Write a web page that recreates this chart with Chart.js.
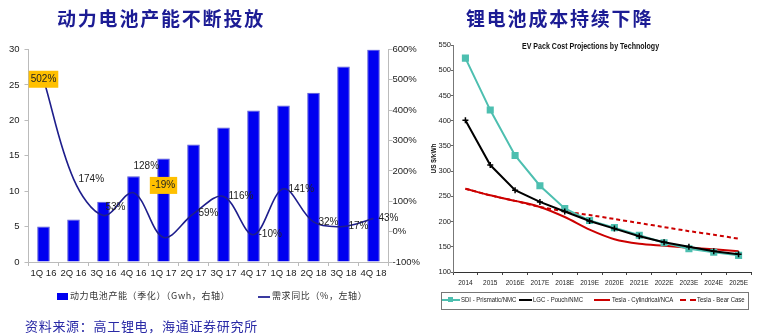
<!DOCTYPE html>
<html>
<head>
<meta charset="utf-8">
<script src="https://cdn.jsdelivr.net/npm/chart.js@4/dist/chart.umd.min.js"></script>
<style>
	html, body {margin: 0; padding: 0; background: #fff;}
	#page {position: relative; width: 757px; height: 336px; overflow: hidden;}
	canvas {position: absolute; top: 0;}
	.title {position: absolute; top: 4px; font: bold 19px "Noto Sans CJK SC", sans-serif; letter-spacing: 1.8px; color: #1c1c94; white-space: nowrap;}
	.cjk {position: absolute; font-family: "Noto Sans CJK SC", sans-serif; white-space: nowrap;}
	.narrow {position: absolute; font-family: "Liberation Sans", Arial, sans-serif; white-space: nowrap; color: #222; transform: scaleX(0.8); transform-origin: left center;}
	.sw {position: absolute;}
</style>
</head>
<body>
<div id="page">
	<canvas id="capacityChart" width="420" height="336" style="left:0"></canvas>
	<canvas id="costChart" width="337" height="336" style="left:420px"></canvas>

	<div class="title" style="left:57px">动力电池产能不断投放</div>
	<div class="title" style="left:466px">锂电池成本持续下降</div>

	<!-- left legend -->
	<div class="sw" style="left:57px; top:293px; width:11px; height:7px; background:#0000f0"></div>
	<div class="cjk" style="left:70px; top:289px; font-size:9px; letter-spacing:0.6px; color:#333">动力电池产能（季化）（Gwh，右轴）</div>
	<div class="sw" style="left:258px; top:296px; width:12px; height:2px; background:#3a3aa0"></div>
	<div class="cjk" style="left:272px; top:289px; font-size:9px; letter-spacing:0.6px; color:#333">需求同比（%，左轴）</div>

	<div class="cjk" style="left:25px; top:316px; font-size:13px; letter-spacing:0.7px; color:#2a2aa6">资料来源：高工锂电，海通证券研究所</div>

	<!-- right chart title and legend -->
	<div class="narrow" style="left:522px; top:41px; font-size:8.5px; font-weight:bold; color:#111; transform: scaleX(0.83)">EV Pack Cost Projections by Technology</div>
	<div class="sw" style="left:441px; top:292px; width:306px; height:16px; border:1px solid #777"></div>
	<div class="sw" style="left:442px; top:299px; width:18px; height:2px; background:#4dbfb0"></div>
	<div class="sw" style="left:448px; top:297px; width:5px; height:5px; background:#4dbfb0"></div>
	<div class="narrow" style="left:461px; top:295px; font-size:7.5px">SDI - Prismatic/NMC</div>
	<div class="sw" style="left:519px; top:299px; width:13px; height:2px; background:#000"></div>
	<div class="narrow" style="left:533px; top:295px; font-size:7.5px">LGC - Pouch/NMC</div>
	<div class="sw" style="left:594px; top:299px; width:16px; height:2px; background:#cc0000"></div>
	<div class="narrow" style="left:612px; top:295px; font-size:7.5px">Tesla - Cylindrical/NCA</div>
	<div class="sw" style="left:680px; top:299px; width:16px; height:0; border-top:2px dashed #cc0000"></div>
	<div class="narrow" style="left:697px; top:295px; font-size:7.5px">Tesla - Bear Case</div>
</div>

<script>
'use strict';

//left chart: capacity (GWh, quarterly) and demand growth (%)
const quarters = ['1Q 16', '2Q 16', '3Q 16', '4Q 16', '1Q 17', '2Q 17', '3Q 17', '4Q 17', '1Q 18', '2Q 18', '3Q 18', '4Q 18'];
const capacityGwh = [5, 6, 8.5, 12.1, 14.6, 16.6, 19, 21.4, 22.1, 23.9, 27.6, 30];
const demandYoY = [502, 174, 53, 128, -19, 59, 116, -10, 141, 32, 17, 43];
const highlighted = [0, 4];

//right chart: pack cost projections (US$/kWh)
const years = ['2014', '2015', '2016E', '2017E', '2018E', '2019E', '2020E', '2021E', '2022E', '2023E', '2024E', '2025E'];
const sdiCost = [524, 421, 331, 271, 226, 202, 188, 173, 158, 146, 139, 133];
const lgcCost = [401, 312, 262, 239, 220, 201, 186, 171, 159, 150, 141, 135];
const teslaCost = [265, 252, 241, 229, 209, 184, 165, 156, 152, 148, 145, 141];
const teslaBearCost = [265, 252, 241, 229, 220, 213, 205, 197, 189, 181, 174, 166];

const LATIN = '"Liberation Sans", Arial, sans-serif';

/** Draws the percentage labels next to the growth line points. */
const pointLabels = {
	id: 'pointLabels',
	afterDatasetsDraw: (chart, args, options) => {
		const {ctx} = chart;
		const meta = chart.getDatasetMeta(options.datasetIndex);
		ctx.save();
		ctx.font = '10px ' + LATIN;
		ctx.textBaseline = 'middle';
		meta.data.forEach((pt, idx) => {
			const text = demandYoY[idx] + '%';
			const nudge = options.nudge[idx] || {dx: 5, dy: 0, align: 'left'};
			const w = ctx.measureText(text).width;
			let x = pt.x + nudge.dx, y = pt.y + nudge.dy;
			if (nudge.align === 'center') {
				x -= w / 2;
			}
			if (highlighted.includes(idx)) {
				ctx.fillStyle = '#ffc000';
				ctx.fillRect(x - 2, y - 8.5, w + 4, 17);
			}
			ctx.fillStyle = '#222';
			ctx.fillText(text, x, y);
		});
		ctx.restore();
	}
};

const tickGrid = {drawOnChartArea: false, drawTicks: true, tickLength: 4, color: '#bbb'};

new Chart(document.getElementById('capacityChart'), {
	type: 'bar',
	data: {
		labels: quarters,
		datasets: [
			{
				type: 'line',
				label: '需求同比（%，左轴）',
				data: demandYoY,
				yAxisID: 'y1',
				borderColor: '#1e1e8c',
				borderWidth: 1.6,
				tension: 0.35,
				pointRadius: 0,
				order: 0
			},
			{
				label: '动力电池产能（季化）（Gwh，右轴）',
				data: capacityGwh,
				yAxisID: 'y',
				backgroundColor: '#0000f0',
				borderColor: '#5a5ad0',
				borderWidth: {top: 1, left: 1, right: 1, bottom: 0},
				barPercentage: 0.42,
				categoryPercentage: 1,
				order: 1
			}
		]
	},
	options: {
		responsive: false,
		animation: false,
		layout: {padding: {top: 49.5, bottom: 52, left: 0, right: 0}},
		plugins: {
			legend: {display: false},
			tooltip: {enabled: false},
			pointLabels: {
				datasetIndex: 0,
				nudge: {
					0: {dx: 0, dy: 0, align: 'center'},
					2: {dx: 2, dy: -8, align: 'left'},
					3: {dx: 0, dy: -27, align: 'left'},
					4: {dx: 0, dy: -52, align: 'center'}
				}
			}
		},
		scales: {
			x: {
				grid: {...tickGrid, offset: true},
				border: {color: '#bbb'},
				ticks: {color: '#222', font: {family: LATIN, size: 9.5}, padding: 1.5, maxRotation: 0, autoSkip: false},
				afterFit: scale => { scale.height = 22; }
			},
			y: {
				position: 'left',
				min: 0,
				max: 30,
				grid: tickGrid,
				border: {color: '#bbb'},
				ticks: {stepSize: 5, color: '#222', font: {family: LATIN, size: 9.5}, padding: 5},
				afterFit: scale => { scale.width = 28.5; }
			},
			y1: {
				position: 'right',
				min: -100,
				max: 600,
				grid: tickGrid,
				border: {color: '#bbb'},
				ticks: {stepSize: 100, color: '#222', font: {family: LATIN, size: 9.5}, padding: 0, callback: v => v + '%'},
				afterFit: scale => { scale.width = 31.5; }
			}
		}
	},
	plugins: [pointLabels]
});

new Chart(document.getElementById('costChart'), {
	type: 'line',
	data: {
		labels: years,
		datasets: [
			{
				label: 'LGC - Pouch/NMC',
				data: lgcCost,
				borderColor: '#000',
				borderWidth: 2,
				pointStyle: 'cross',
				pointRadius: 3,
				pointBorderWidth: 1.5,
				pointBorderColor: '#000',
				tension: 0,
				order: 0
			},
			{
				label: 'SDI - Prismatic/NMC',
				data: sdiCost,
				borderColor: '#4dbfb0',
				backgroundColor: '#4dbfb0',
				borderWidth: 2,
				pointStyle: 'rect',
				pointRadius: 3.6,
				tension: 0,
				order: 1
			},
			{
				label: 'Tesla - Cylindrical/NCA',
				data: teslaCost,
				borderColor: '#cc0000',
				borderWidth: 2,
				pointRadius: 0,
				tension: 0.3,
				order: 2
			},
			{
				label: 'Tesla - Bear Case',
				data: teslaBearCost,
				borderColor: '#cc0000',
				borderWidth: 2,
				borderDash: [4, 3],
				pointRadius: 0,
				tension: 0.2,
				order: 3
			}
		]
	},
	options: {
		responsive: false,
		animation: false,
		layout: {padding: {top: 45, bottom: 46, left: 6, right: 4}},
		plugins: {
			legend: {display: false},
			tooltip: {enabled: false}
		},
		scales: {
			x: {
				offset: true,
				grid: {drawOnChartArea: false, drawTicks: true, tickLength: 3, color: '#444', offset: true},
				border: {color: '#333'},
				ticks: {color: '#222', font: {family: LATIN, size: 6.5}, padding: 4, maxRotation: 0, autoSkip: false},
				afterFit: scale => { scale.height = 18; }
			},
			y: {
				min: 100,
				max: 550,
				grid: {drawOnChartArea: false, drawTicks: true, tickLength: 2, color: '#666'},
				border: {color: '#777'},
				ticks: {stepSize: 50, color: '#222', font: {family: LATIN, size: 7.5}, padding: 0},
				title: {display: true, text: 'US $/kWh', color: '#111', font: {family: LATIN, size: 6.5, weight: 'bold'}, padding: {top: 4, bottom: 0}},
				afterFit: scale => { scale.width = 27; }
			}
		}
	}
});
</script>
</body>
</html>
